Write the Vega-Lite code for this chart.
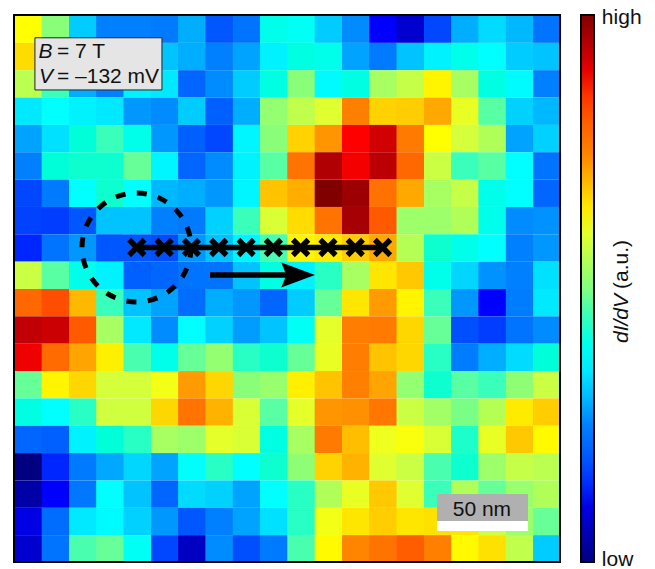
{"$schema":"https://vega.github.io/schema/vega-lite/v6.json","width":546,"height":547,"autosize":{"type":"none"},"padding":{"left":14,"top":15,"right":95,"bottom":7},"background":"white","config":{"font":"Liberation Sans","view":{"stroke":null}},"datasets":{"grid":[
{"x":0,"y":0,"v":0.625},{"x":15,"y":0,"v":0.51},{"x":30,"y":0,"v":0.32},{"x":45,"y":0,"v":0.25},{"x":60,"y":0,"v":0.25},{"x":75,"y":0,"v":0.24},{"x":90,"y":0,"v":0.29},{"x":105,"y":0,"v":0.19},{"x":120,"y":0,"v":0.23},{"x":135,"y":0,"v":0.40},{"x":150,"y":0,"v":0.39},{"x":165,"y":0,"v":0.32},{"x":180,"y":0,"v":0.26},{"x":195,"y":0,"v":0.125},{"x":210,"y":0,"v":0.08},{"x":225,"y":0,"v":0.17},{"x":240,"y":0,"v":0.29},{"x":255,"y":0,"v":0.335},{"x":270,"y":0,"v":0.30},{"x":285,"y":0,"v":0.23},
{"x":0,"y":15,"v":0.66},{"x":15,"y":15,"v":0.47},{"x":30,"y":15,"v":0.33},{"x":45,"y":15,"v":0.27},{"x":60,"y":15,"v":0.30},{"x":75,"y":15,"v":0.31},{"x":90,"y":15,"v":0.29},{"x":105,"y":15,"v":0.25},{"x":120,"y":15,"v":0.28},{"x":135,"y":15,"v":0.36},{"x":150,"y":15,"v":0.41},{"x":165,"y":15,"v":0.40},{"x":180,"y":15,"v":0.28},{"x":195,"y":15,"v":0.24},{"x":210,"y":15,"v":0.31},{"x":225,"y":15,"v":0.36},{"x":240,"y":15,"v":0.40},{"x":255,"y":15,"v":0.375},{"x":270,"y":15,"v":0.32},{"x":285,"y":15,"v":0.31},
{"x":0,"y":30,"v":0.56},{"x":15,"y":30,"v":0.45},{"x":30,"y":30,"v":0.29},{"x":45,"y":30,"v":0.25},{"x":60,"y":30,"v":0.36},{"x":75,"y":30,"v":0.35},{"x":90,"y":30,"v":0.21},{"x":105,"y":30,"v":0.26},{"x":120,"y":30,"v":0.32},{"x":135,"y":30,"v":0.41},{"x":150,"y":30,"v":0.51},{"x":165,"y":30,"v":0.37},{"x":180,"y":30,"v":0.41},{"x":195,"y":30,"v":0.54},{"x":210,"y":30,"v":0.57},{"x":225,"y":30,"v":0.635},{"x":240,"y":30,"v":0.54},{"x":255,"y":30,"v":0.41},{"x":270,"y":30,"v":0.37},{"x":285,"y":30,"v":0.25},
{"x":0,"y":45,"v":0.35},{"x":15,"y":45,"v":0.375},{"x":30,"y":45,"v":0.36},{"x":45,"y":45,"v":0.35},{"x":60,"y":45,"v":0.27},{"x":75,"y":45,"v":0.26},{"x":90,"y":45,"v":0.32},{"x":105,"y":45,"v":0.20},{"x":120,"y":45,"v":0.29},{"x":135,"y":45,"v":0.52},{"x":150,"y":45,"v":0.565},{"x":165,"y":45,"v":0.595},{"x":180,"y":45,"v":0.75},{"x":195,"y":45,"v":0.67},{"x":210,"y":45,"v":0.675},{"x":225,"y":45,"v":0.71},{"x":240,"y":45,"v":0.605},{"x":255,"y":45,"v":0.47},{"x":270,"y":45,"v":0.325},{"x":285,"y":45,"v":0.30},
{"x":0,"y":60,"v":0.28},{"x":15,"y":60,"v":0.34},{"x":30,"y":60,"v":0.42},{"x":45,"y":60,"v":0.45},{"x":60,"y":60,"v":0.40},{"x":75,"y":60,"v":0.27},{"x":90,"y":60,"v":0.20},{"x":105,"y":60,"v":0.17},{"x":120,"y":60,"v":0.365},{"x":135,"y":60,"v":0.51},{"x":150,"y":60,"v":0.67},{"x":165,"y":60,"v":0.73},{"x":180,"y":60,"v":0.875},{"x":195,"y":60,"v":0.92},{"x":210,"y":60,"v":0.76},{"x":225,"y":60,"v":0.625},{"x":240,"y":60,"v":0.585},{"x":255,"y":60,"v":0.55},{"x":270,"y":60,"v":0.28},{"x":285,"y":60,"v":0.325},
{"x":0,"y":75,"v":0.25},{"x":15,"y":75,"v":0.42},{"x":30,"y":75,"v":0.43},{"x":45,"y":75,"v":0.43},{"x":60,"y":75,"v":0.48},{"x":75,"y":75,"v":0.365},{"x":90,"y":75,"v":0.21},{"x":105,"y":75,"v":0.26},{"x":120,"y":75,"v":0.36},{"x":135,"y":75,"v":0.47},{"x":150,"y":75,"v":0.77},{"x":165,"y":75,"v":0.95},{"x":180,"y":75,"v":0.885},{"x":195,"y":75,"v":0.94},{"x":210,"y":75,"v":0.79},{"x":225,"y":75,"v":0.575},{"x":240,"y":75,"v":0.45},{"x":255,"y":75,"v":0.47},{"x":270,"y":75,"v":0.375},{"x":285,"y":75,"v":0.23},
{"x":0,"y":90,"v":0.17},{"x":15,"y":90,"v":0.24},{"x":30,"y":90,"v":0.375},{"x":45,"y":90,"v":0.43},{"x":60,"y":90,"v":0.375},{"x":75,"y":90,"v":0.30},{"x":90,"y":90,"v":0.29},{"x":105,"y":90,"v":0.27},{"x":120,"y":90,"v":0.365},{"x":135,"y":90,"v":0.685},{"x":150,"y":90,"v":0.705},{"x":165,"y":90,"v":1},{"x":180,"y":90,"v":0.97},{"x":195,"y":90,"v":0.775},{"x":210,"y":90,"v":0.71},{"x":225,"y":90,"v":0.54},{"x":240,"y":90,"v":0.57},{"x":255,"y":90,"v":0.40},{"x":270,"y":90,"v":0.375},{"x":285,"y":90,"v":0.21},
{"x":0,"y":105,"v":0.165},{"x":15,"y":105,"v":0.16},{"x":30,"y":105,"v":0.19},{"x":45,"y":105,"v":0.31},{"x":60,"y":105,"v":0.31},{"x":75,"y":105,"v":0.25},{"x":90,"y":105,"v":0.24},{"x":105,"y":105,"v":0.325},{"x":120,"y":105,"v":0.45},{"x":135,"y":105,"v":0.59},{"x":150,"y":105,"v":0.66},{"x":165,"y":105,"v":0.77},{"x":180,"y":105,"v":0.96},{"x":195,"y":105,"v":0.81},{"x":210,"y":105,"v":0.53},{"x":225,"y":105,"v":0.53},{"x":240,"y":105,"v":0.55},{"x":255,"y":105,"v":0.40},{"x":270,"y":105,"v":0.26},{"x":285,"y":105,"v":0.265},
{"x":0,"y":120,"v":0.14},{"x":15,"y":120,"v":0.23},{"x":30,"y":120,"v":0.27},{"x":45,"y":120,"v":0.19},{"x":60,"y":120,"v":0.19},{"x":75,"y":120,"v":0.18},{"x":90,"y":120,"v":0.27},{"x":105,"y":120,"v":0.31},{"x":120,"y":120,"v":0.365},{"x":135,"y":120,"v":0.46},{"x":150,"y":120,"v":0.635},{"x":165,"y":120,"v":0.645},{"x":180,"y":120,"v":0.675},{"x":195,"y":120,"v":0.71},{"x":210,"y":120,"v":0.555},{"x":225,"y":120,"v":0.43},{"x":240,"y":120,"v":0.40},{"x":255,"y":120,"v":0.375},{"x":270,"y":120,"v":0.25},{"x":285,"y":120,"v":0.27},
{"x":0,"y":135,"v":0.575},{"x":15,"y":135,"v":0.47},{"x":30,"y":135,"v":0.40},{"x":45,"y":135,"v":0.36},{"x":60,"y":135,"v":0.20},{"x":75,"y":135,"v":0.21},{"x":90,"y":135,"v":0.23},{"x":105,"y":135,"v":0.23},{"x":120,"y":135,"v":0.31},{"x":135,"y":135,"v":0.41},{"x":150,"y":135,"v":0.36},{"x":165,"y":135,"v":0.44},{"x":180,"y":135,"v":0.54},{"x":195,"y":135,"v":0.65},{"x":210,"y":135,"v":0.68},{"x":225,"y":135,"v":0.40},{"x":240,"y":135,"v":0.33},{"x":255,"y":135,"v":0.265},{"x":270,"y":135,"v":0.25},{"x":285,"y":135,"v":0.34},
{"x":0,"y":150,"v":0.79},{"x":15,"y":150,"v":0.825},{"x":30,"y":150,"v":0.695},{"x":45,"y":150,"v":0.45},{"x":60,"y":150,"v":0.31},{"x":75,"y":150,"v":0.28},{"x":90,"y":150,"v":0.22},{"x":105,"y":150,"v":0.29},{"x":120,"y":150,"v":0.27},{"x":135,"y":150,"v":0.21},{"x":150,"y":150,"v":0.32},{"x":165,"y":150,"v":0.48},{"x":180,"y":150,"v":0.65},{"x":195,"y":150,"v":0.725},{"x":210,"y":150,"v":0.635},{"x":225,"y":150,"v":0.45},{"x":240,"y":150,"v":0.27},{"x":255,"y":150,"v":0.125},{"x":270,"y":150,"v":0.245},{"x":285,"y":150,"v":0.35},
{"x":0,"y":165,"v":0.935},{"x":15,"y":165,"v":0.925},{"x":30,"y":165,"v":0.81},{"x":45,"y":165,"v":0.54},{"x":60,"y":165,"v":0.35},{"x":75,"y":165,"v":0.26},{"x":90,"y":165,"v":0.375},{"x":105,"y":165,"v":0.325},{"x":120,"y":165,"v":0.275},{"x":135,"y":165,"v":0.31},{"x":150,"y":165,"v":0.39},{"x":165,"y":165,"v":0.60},{"x":180,"y":165,"v":0.755},{"x":195,"y":165,"v":0.76},{"x":210,"y":165,"v":0.665},{"x":225,"y":165,"v":0.48},{"x":240,"y":165,"v":0.18},{"x":255,"y":165,"v":0.16},{"x":270,"y":165,"v":0.23},{"x":285,"y":165,"v":0.26},
{"x":0,"y":180,"v":0.89},{"x":15,"y":180,"v":0.785},{"x":30,"y":180,"v":0.715},{"x":45,"y":180,"v":0.64},{"x":60,"y":180,"v":0.46},{"x":75,"y":180,"v":0.40},{"x":90,"y":180,"v":0.48},{"x":105,"y":180,"v":0.52},{"x":120,"y":180,"v":0.44},{"x":135,"y":180,"v":0.43},{"x":150,"y":180,"v":0.48},{"x":165,"y":180,"v":0.605},{"x":180,"y":180,"v":0.755},{"x":195,"y":180,"v":0.685},{"x":210,"y":180,"v":0.665},{"x":225,"y":180,"v":0.44},{"x":240,"y":180,"v":0.245},{"x":255,"y":180,"v":0.29},{"x":270,"y":180,"v":0.335},{"x":285,"y":180,"v":0.42},
{"x":0,"y":195,"v":0.48},{"x":15,"y":195,"v":0.635},{"x":30,"y":195,"v":0.665},{"x":45,"y":195,"v":0.585},{"x":60,"y":195,"v":0.585},{"x":75,"y":195,"v":0.615},{"x":90,"y":195,"v":0.725},{"x":105,"y":195,"v":0.665},{"x":120,"y":195,"v":0.51},{"x":135,"y":195,"v":0.525},{"x":150,"y":195,"v":0.64},{"x":165,"y":195,"v":0.685},{"x":180,"y":195,"v":0.75},{"x":195,"y":195,"v":0.715},{"x":210,"y":195,"v":0.52},{"x":225,"y":195,"v":0.43},{"x":240,"y":195,"v":0.47},{"x":255,"y":195,"v":0.45},{"x":270,"y":195,"v":0.515},{"x":285,"y":195,"v":0.575},
{"x":0,"y":210,"v":0.41},{"x":15,"y":210,"v":0.375},{"x":30,"y":210,"v":0.44},{"x":45,"y":210,"v":0.58},{"x":60,"y":210,"v":0.58},{"x":75,"y":210,"v":0.665},{"x":90,"y":210,"v":0.77},{"x":105,"y":210,"v":0.70},{"x":120,"y":210,"v":0.59},{"x":135,"y":210,"v":0.47},{"x":150,"y":210,"v":0.60},{"x":165,"y":210,"v":0.73},{"x":180,"y":210,"v":0.735},{"x":195,"y":210,"v":0.765},{"x":210,"y":210,"v":0.575},{"x":225,"y":210,"v":0.535},{"x":240,"y":210,"v":0.495},{"x":255,"y":210,"v":0.555},{"x":270,"y":210,"v":0.645},{"x":285,"y":210,"v":0.675},
{"x":0,"y":225,"v":0.21},{"x":15,"y":225,"v":0.20},{"x":30,"y":225,"v":0.36},{"x":45,"y":225,"v":0.42},{"x":60,"y":225,"v":0.44},{"x":75,"y":225,"v":0.54},{"x":90,"y":225,"v":0.53},{"x":105,"y":225,"v":0.60},{"x":120,"y":225,"v":0.59},{"x":135,"y":225,"v":0.41},{"x":150,"y":225,"v":0.54},{"x":165,"y":225,"v":0.76},{"x":180,"y":225,"v":0.69},{"x":195,"y":225,"v":0.61},{"x":210,"y":225,"v":0.62},{"x":225,"y":225,"v":0.59},{"x":240,"y":225,"v":0.435},{"x":255,"y":225,"v":0.605},{"x":270,"y":225,"v":0.68},{"x":285,"y":225,"v":0.63},
{"x":0,"y":240,"v":0.0},{"x":15,"y":240,"v":0.14},{"x":30,"y":240,"v":0.24},{"x":45,"y":240,"v":0.285},{"x":60,"y":240,"v":0.33},{"x":75,"y":240,"v":0.28},{"x":90,"y":240,"v":0.38},{"x":105,"y":240,"v":0.44},{"x":120,"y":240,"v":0.375},{"x":135,"y":240,"v":0.43},{"x":150,"y":240,"v":0.515},{"x":165,"y":240,"v":0.67},{"x":180,"y":240,"v":0.70},{"x":195,"y":240,"v":0.595},{"x":210,"y":240,"v":0.575},{"x":225,"y":240,"v":0.46},{"x":240,"y":240,"v":0.43},{"x":255,"y":240,"v":0.53},{"x":270,"y":240,"v":0.57},{"x":285,"y":240,"v":0.56},
{"x":0,"y":255,"v":0.04},{"x":15,"y":255,"v":0.125},{"x":30,"y":255,"v":0.235},{"x":45,"y":255,"v":0.375},{"x":60,"y":255,"v":0.31},{"x":75,"y":255,"v":0.21},{"x":90,"y":255,"v":0.335},{"x":105,"y":255,"v":0.325},{"x":120,"y":255,"v":0.28},{"x":135,"y":255,"v":0.375},{"x":150,"y":255,"v":0.44},{"x":165,"y":255,"v":0.55},{"x":180,"y":255,"v":0.605},{"x":195,"y":255,"v":0.68},{"x":210,"y":255,"v":0.595},{"x":225,"y":255,"v":0.45},{"x":240,"y":255,"v":0.55},{"x":255,"y":255,"v":0.48},{"x":270,"y":255,"v":0.525},{"x":285,"y":255,"v":0.55},
{"x":0,"y":270,"v":0.10},{"x":15,"y":270,"v":0.22},{"x":30,"y":270,"v":0.35},{"x":45,"y":270,"v":0.37},{"x":60,"y":270,"v":0.325},{"x":75,"y":270,"v":0.27},{"x":90,"y":270,"v":0.19},{"x":105,"y":270,"v":0.25},{"x":120,"y":270,"v":0.28},{"x":135,"y":270,"v":0.34},{"x":150,"y":270,"v":0.44},{"x":165,"y":270,"v":0.615},{"x":180,"y":270,"v":0.65},{"x":195,"y":270,"v":0.675},{"x":210,"y":270,"v":0.65},{"x":225,"y":270,"v":0.655},{"x":240,"y":270,"v":0.65},{"x":255,"y":270,"v":0.58},{"x":270,"y":270,"v":0.53},{"x":285,"y":270,"v":0.48},
{"x":0,"y":285,"v":0.08},{"x":15,"y":285,"v":0.23},{"x":30,"y":285,"v":0.46},{"x":45,"y":285,"v":0.48},{"x":60,"y":285,"v":0.39},{"x":75,"y":285,"v":0.17},{"x":90,"y":285,"v":0.07},{"x":105,"y":285,"v":0.26},{"x":120,"y":285,"v":0.18},{"x":135,"y":285,"v":0.24},{"x":150,"y":285,"v":0.46},{"x":165,"y":285,"v":0.63},{"x":180,"y":285,"v":0.745},{"x":195,"y":285,"v":0.77},{"x":210,"y":285,"v":0.805},{"x":225,"y":285,"v":0.75},{"x":240,"y":285,"v":0.63},{"x":255,"y":285,"v":0.655},{"x":270,"y":285,"v":0.565},{"x":285,"y":285,"v":0.32}
]},"layer":[
{"data":{"name":"grid"},"mark":{"type":"rect","binSpacing":0,"xOffset":0.6,"x2Offset":-0.6,"yOffset":0.6,"y2Offset":-0.6},"encoding":{"x":{"field":"x","type":"quantitative","bin":{"step":15,"extent":[0,300]},"scale":{"domain":[0,300]},"axis":null},"y":{"field":"y","type":"quantitative","bin":{"step":15,"extent":[0,300]},"scale":{"domain":[0,300],"reverse":true},"axis":null},"color":{"field":"v","type":"quantitative","scale":{"domain":[0,1],"range":["#000080","#0000ff","#0080ff","#00ffff","#80ff80","#ffff00","#ff8000","#ff0000","#800000"]},"legend":{"orient":"none","legendX":567,"legendY":0,"title":null,"padding":0,"gradientLength":547,"gradientThickness":13,"gradientStrokeColor":"black","gradientStrokeWidth":2,"values":[0,1],"labelExpr":"''"}}}},
{"data":{"name":"grid"},"mark":{"type":"rect","binSpacing":0},"encoding":{"x":{"field":"x","type":"quantitative","bin":{"step":15,"extent":[0,300]},"scale":{"domain":[0,300]},"axis":null},"y":{"field":"y","type":"quantitative","bin":{"step":15,"extent":[0,300]},"scale":{"domain":[0,300],"reverse":true},"axis":null},"color":{"field":"v","type":"quantitative","scale":{"domain":[0,1],"range":["#000080","#0000ff","#0080ff","#00ffff","#80ff80","#ffff00","#ff8000","#ff0000","#800000"]},"legend":{"orient":"none","legendX":567,"legendY":0,"title":null,"padding":0,"gradientLength":547,"gradientThickness":13,"gradientStrokeColor":"black","gradientStrokeWidth":2,"values":[0,1],"labelExpr":"''"}}}},
{"data":{"values":[{"a":1}]},"mark":{"type":"rect","fill":"#e5e5e5","stroke":"#222222","strokeWidth":1},"encoding":{"x":{"datum":11.5},"x2":{"datum":81.3},"y":{"datum":12.5},"y2":{"datum":41.1}}},
{"data":{"values":[{"a":1}]},"mark":{"type":"rect","fill":"#b0b0b0"},"encoding":{"x":{"datum":232.4},"x2":{"datum":282.4},"y":{"datum":262.7},"y2":{"datum":277.5}}},
{"data":{"values":[{"a":1}]},"mark":{"type":"rect","fill":"white"},"encoding":{"x":{"datum":232.4},"x2":{"datum":282.4},"y":{"datum":277.5},"y2":{"datum":283}}},
{"data":{"values":[{"x":23.6,"y":23.6,"label":"= 7 T"},{"x":23.6,"y":37.3,"label":"= –132 mV"},{"x":323,"y":4.9,"label":"high"},{"x":323,"y":302.2,"label":"low"}]},"mark":{"type":"text","align":"left","baseline":"alphabetic","fontSize":21,"color":"#111111"},"encoding":{"x":{"field":"x","type":"quantitative"},"y":{"field":"y","type":"quantitative"},"text":{"field":"label"}}},
{"data":{"values":[{"x":13.5,"y":23.6,"label":"B"},{"x":13.7,"y":37.3,"label":"V"}]},"mark":{"type":"text","align":"left","baseline":"alphabetic","fontSize":21,"fontStyle":"italic","color":"#111111"},"encoding":{"x":{"field":"x","type":"quantitative"},"y":{"field":"y","type":"quantitative"},"text":{"field":"label"}}},
{"data":{"values":[{"x":257.1,"y":274.8,"label":"50 nm"}]},"mark":{"type":"text","align":"center","baseline":"alphabetic","fontSize":21,"color":"#111111"},"encoding":{"x":{"field":"x","type":"quantitative"},"y":{"field":"y","type":"quantitative"},"text":{"field":"label"}}},
{"data":{"values":[{"x":337.4,"y":179.9,"label":"dI/dV"}]},"mark":{"type":"text","align":"left","baseline":"alphabetic","angle":270,"fontSize":21,"fontStyle":"italic","color":"#111111"},"encoding":{"x":{"field":"x","type":"quantitative"},"y":{"field":"y","type":"quantitative"},"text":{"field":"label"}}},
{"data":{"values":[{"x":337.4,"y":150.3,"label":"(a.u.)"}]},"mark":{"type":"text","align":"left","baseline":"alphabetic","angle":270,"fontSize":21,"color":"#111111"},"encoding":{"x":{"field":"x","type":"quantitative"},"y":{"field":"y","type":"quantitative"},"text":{"field":"label"}}},
{"data":{"values":[{"x":67.5,"y":127.5},{"x":82.5,"y":127.5},{"x":97.5,"y":127.5},{"x":112.5,"y":127.5},{"x":127.5,"y":127.5},{"x":142.5,"y":127.5},{"x":157.5,"y":127.5},{"x":172.5,"y":127.5},{"x":187.5,"y":127.5},{"x":202.5,"y":127.5}]},"layer":[
{"mark":{"type":"line","color":"black","strokeWidth":5.3},"encoding":{"x":{"field":"x","type":"quantitative"},"y":{"field":"y","type":"quantitative"}}},
{"mark":{"type":"point","shape":"M-1,-1L1,1M-1,1L1,-1","filled":false,"stroke":"black","strokeWidth":5.5,"size":240,"opacity":1},"encoding":{"x":{"field":"x","type":"quantitative"},"y":{"field":"y","type":"quantitative"}}}
]},
{"data":{"values":[{"a":1}]},"mark":{"type":"point","shape":"circle","filled":false,"stroke":"black","strokeWidth":5,"strokeDash":[10,11.4],"size":11881,"opacity":1},"encoding":{"x":{"datum":67.3},"y":{"datum":127.5}}},
{"data":{"values":[{"a":1}]},"mark":{"type":"rule","color":"black","strokeWidth":5.3},"encoding":{"x":{"datum":107.7},"x2":{"datum":153},"y":{"datum":142.6}}},
{"data":{"values":[{"a":1}]},"mark":{"type":"point","shape":"M1,0L-1,-0.75L-0.7,0L-1,0.75Z","filled":true,"fill":"black","stroke":"black","strokeWidth":2,"size":841,"opacity":1},"encoding":{"x":{"datum":155.8},"y":{"datum":142.6}}},
{"data":{"values":[{"a":1}]},"mark":{"type":"rect","fill":null,"stroke":"black","strokeWidth":2},"encoding":{"x":{"datum":0},"x2":{"datum":300},"y":{"datum":0},"y2":{"datum":300}}}
]}
